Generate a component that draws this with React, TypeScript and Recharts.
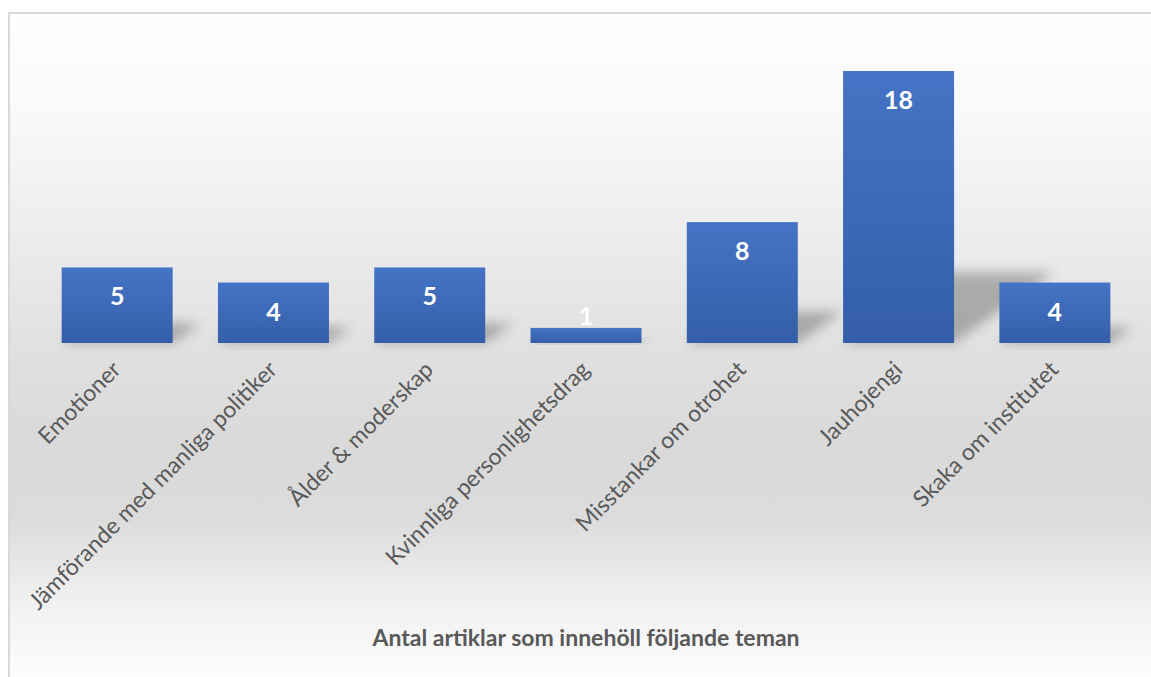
import { BarChart, Bar, XAxis, YAxis, LabelList, Label } from 'recharts'

const themes = [
  'Emotioner',
  'Jämförande med manliga politiker',
  'Ålder & moderskap',
  'Kvinnliga personlighetsdrag',
  'Misstankar om otrohet',
  'Jauhojengi',
  'Skaka om institutet',
]
const articleCounts = [5, 4, 5, 1, 8, 18, 4]
const chartTitle = 'Antal artiklar som innehöll följande teman'

const data = themes.map((name, i) => ({ name, count: articleCounts[i] }))

const FONT = 'Lato, "Open Sans", sans-serif'

// bar with a soft perspective shadow falling to the right (like the Excel style)
const ShadowBar = (props: any) => {
  const { x, y, width, height } = props
  if (!height) return null
  const base = y + height
  const skew = height * 0.37
  const lift = height * 0.26
  const pts = [
    [x, base],
    [x + width, base],
    [x + width + skew, base - lift],
    [x + skew, base - lift],
  ]
    .map(p => p.join(','))
    .join(' ')
  return (
    <g>
      <polygon points={pts} fill="#000" fillOpacity={0.26} filter="url(#barShadow)" />
      <rect x={x} y={y} width={width} height={height} fill="url(#barFill)" />
    </g>
  )
}

const ValueLabel = (props: any) => {
  const { x, y, width, height, value } = props
  const cy = height > 40 ? y + 28 : y - 13
  return (
    <text
      x={x + width / 2}
      y={cy}
      fill="#fff"
      fontFamily={FONT}
      fontWeight={700}
      fontSize={25}
      textAnchor="middle"
      dominantBaseline="central"
    >
      {value}
    </text>
  )
}

const AngledTick = (props: any) => {
  const { x, y, payload } = props
  return (
    <g transform={`translate(${x + 5},${y + 20})`}>
      <text
        x={0}
        y={0}
        textAnchor="end"
        transform="rotate(-45)"
        fill="#595959"
        fontFamily={FONT}
        fontSize={23}
      >
        {payload.value}
      </text>
    </g>
  )
}

export default function App() {
  return (
    <div
      style={{
        position: 'fixed',
        left: 8,
        top: 12,
        width: 1160,
        height: 680,
        border: '2px solid #d9d9d9',
        boxSizing: 'border-box',
        background:
          'linear-gradient(to bottom, #fefefe 0%, #fafafa 13%, #ebebeb 35%, #e0e0e0 50%, #d9d9d9 64%, #dcdcdc 75%, #efefef 86%, #fdfdfd 98%)',
      }}
    >
      <BarChart
        width={1156}
        height={676}
        data={data}
        margin={{ top: 57, right: 33, left: 29, bottom: 0 }}
        barCategoryGap="14.5%"
      >
        <defs>
          <linearGradient id="barFill" x1="0" y1="0" x2="0" y2="1">
            <stop offset="0%" stopColor="#4574c6" />
            <stop offset="100%" stopColor="#345ea8" />
          </linearGradient>
          <filter id="barShadow" x="-50%" y="-50%" width="200%" height="200%">
            <feGaussianBlur stdDeviation="6" />
          </filter>
        </defs>
        <YAxis hide domain={[0, 18]} />
        <XAxis
          dataKey="name"
          height={347}
          interval={0}
          axisLine={false}
          tickLine={false}
          tick={<AngledTick />}
        >
          <Label
            value={chartTitle}
            position="insideBottom"
            offset={44}
            fill="#595959"
            fontFamily={FONT}
            fontWeight={700}
            fontSize={23}
          />
        </XAxis>
        <Bar dataKey="count" shape={<ShadowBar />} isAnimationActive={false}>
          <LabelList dataKey="count" content={<ValueLabel />} />
        </Bar>
      </BarChart>
    </div>
  )
}
